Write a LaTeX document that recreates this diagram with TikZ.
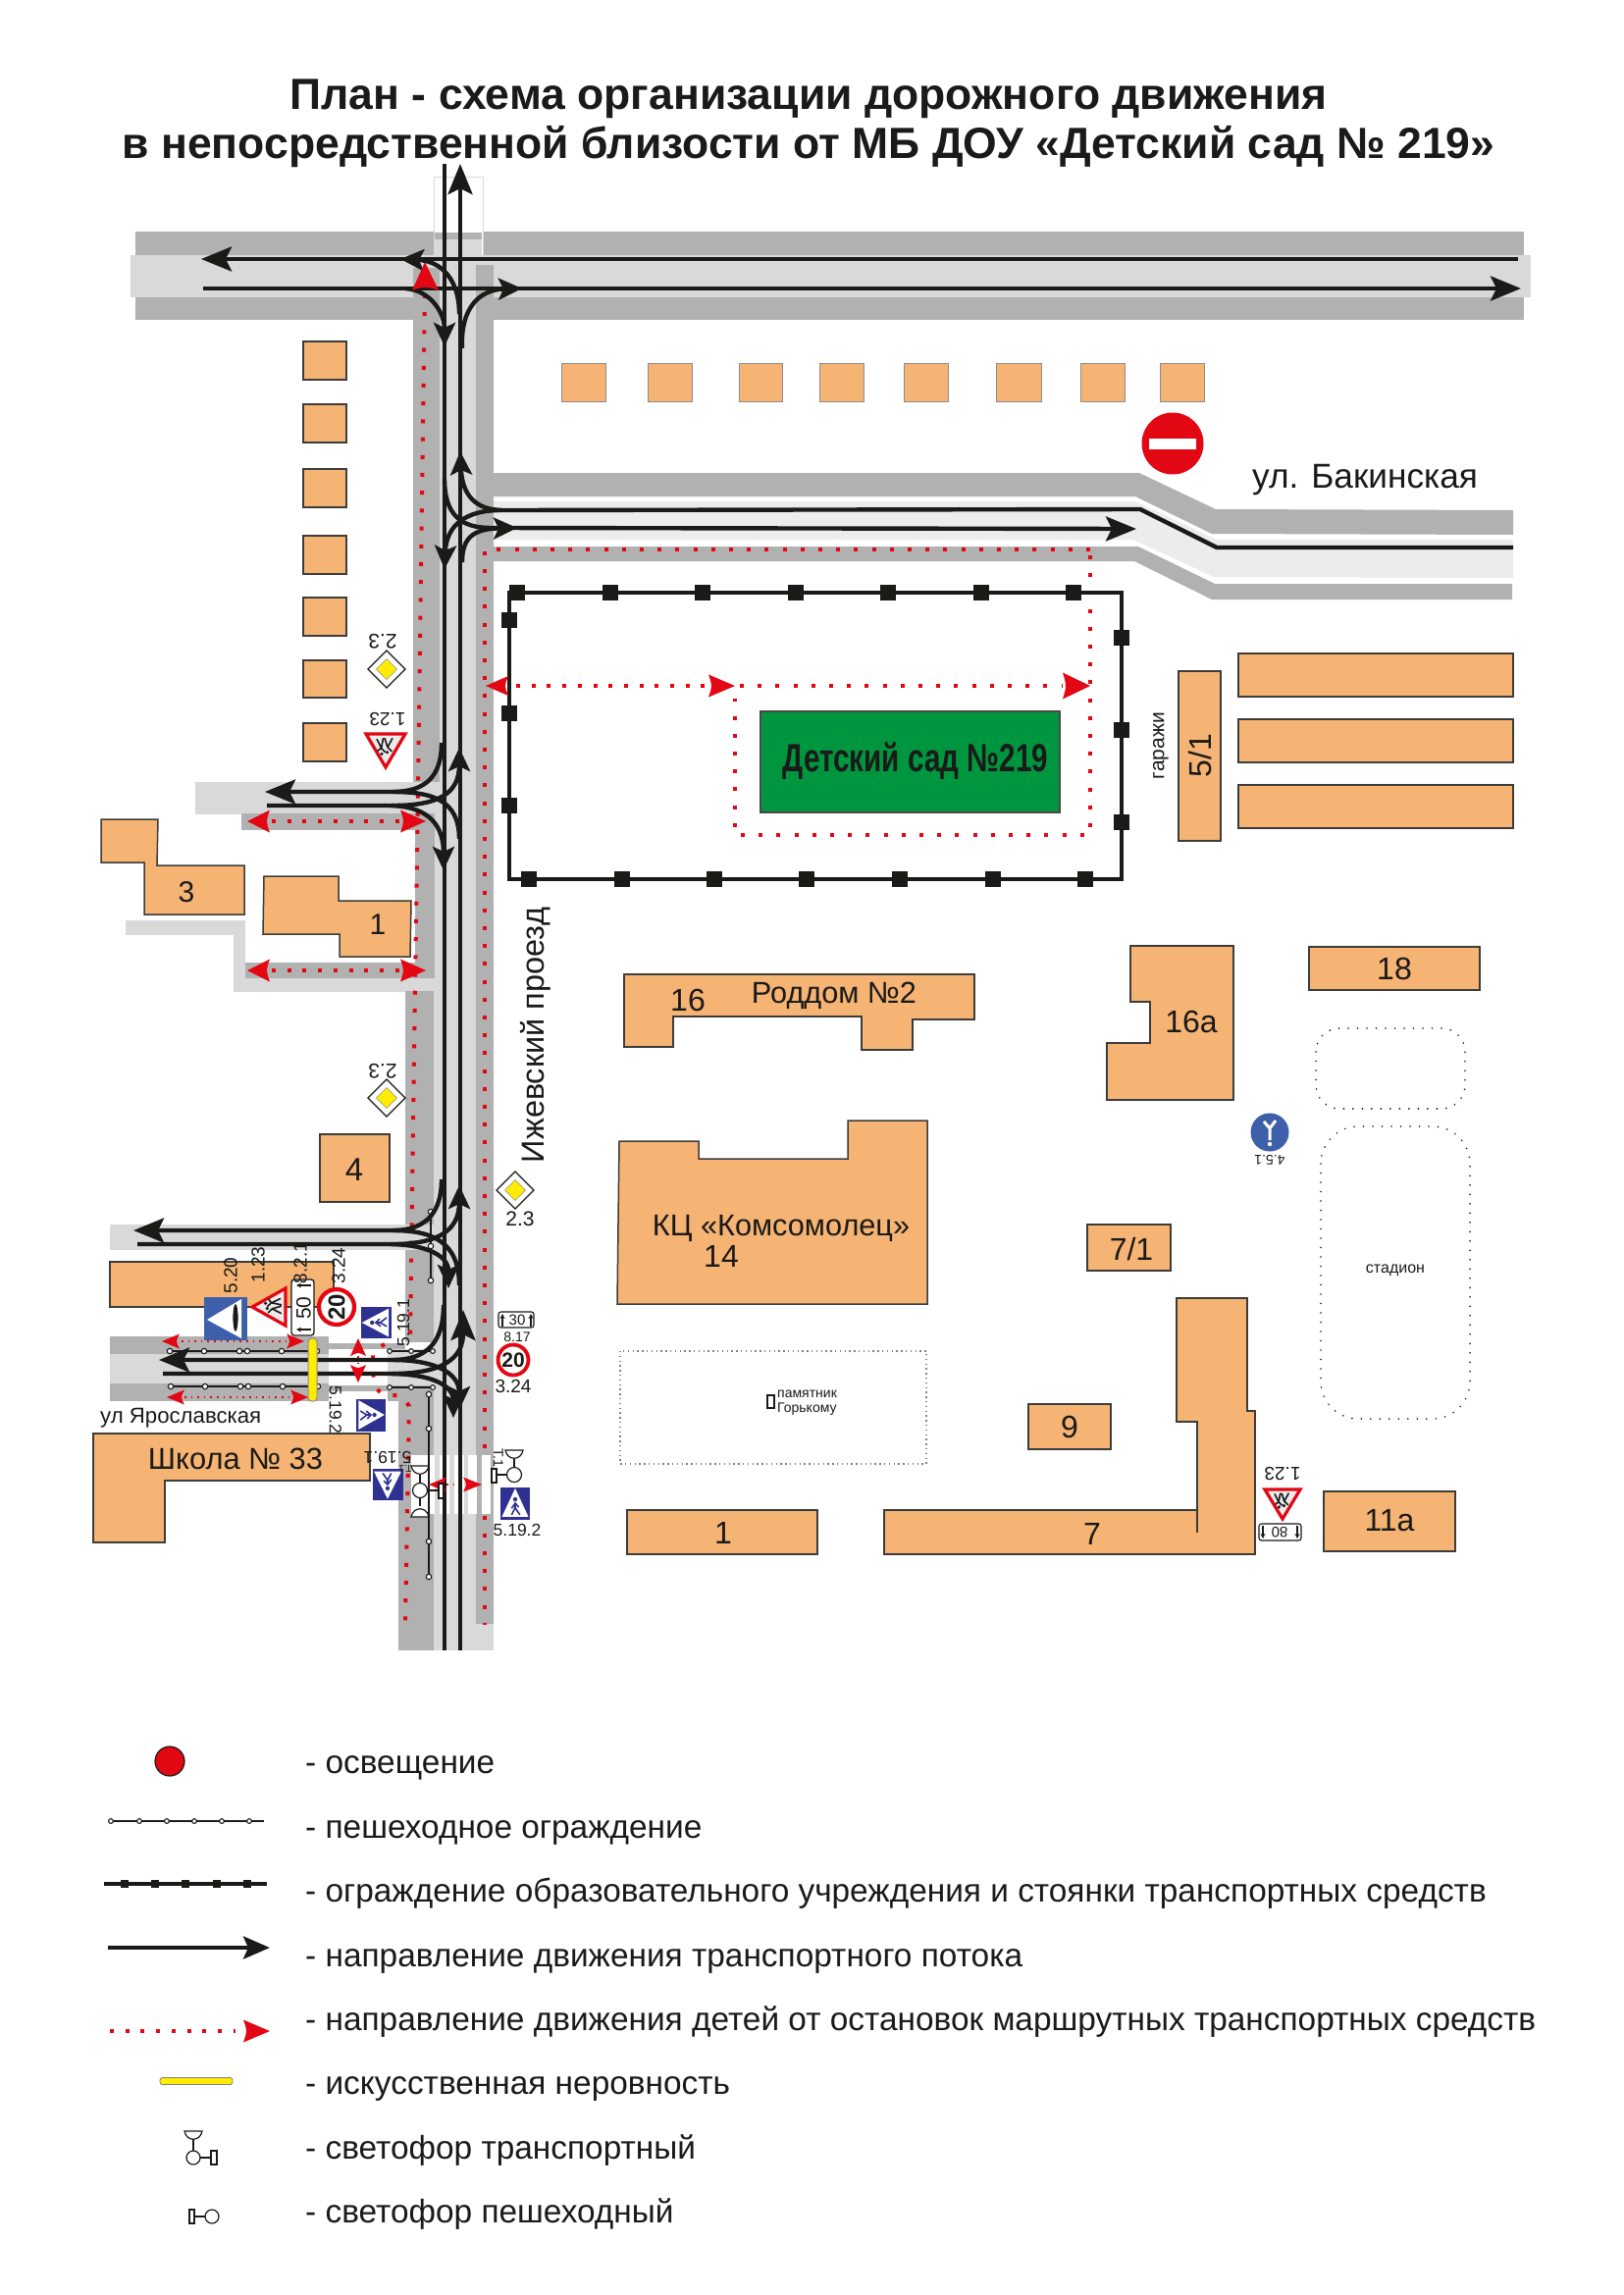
\documentclass[tikz,border=0pt]{standalone}
\usepackage{fontspec}
\usepackage{graphicx}
\setmainfont{Liberation Sans}
\usetikzlibrary{arrows.meta}
\definecolor{dk}{HTML}{B0B1B0}
\definecolor{lt}{HTML}{D9D9D9}
\definecolor{vl}{HTML}{ECECEC}
\definecolor{bd}{HTML}{F5B374}
\definecolor{rd}{HTML}{E30613}
\definecolor{yl}{HTML}{FFEC00}
\definecolor{gn}{HTML}{009640}
\definecolor{ink}{HTML}{1A1A18}
\definecolor{bl}{HTML}{3E5FA9}
\definecolor{nv}{HTML}{2E3192}
\newcommand\fs[1]{\fontsize{#1}{#1}\selectfont}
\tikzset{
 bdg/.style={fill=bd,draw=ink!85,line width=1.5pt},
 bdglight/.style={fill=bd,draw=black!45,line width=1pt},
 lane/.style={draw=ink,line width=4.4pt},
 big/.style={-{Stealth[length=31pt,width=25pt,inset=6pt]}},
 small/.style={-{Stealth[length=24pt,width=22pt,inset=5pt]}},
 reddot/.style={draw=rd,line width=4pt,dash pattern=on 4pt off 14.2pt},
 reddotb/.style={draw=rd,line width=4pt,dash pattern=on 4pt off 11.7pt},
 redfine/.style={draw=rd,line width=1.6pt,dash pattern=on 1.6pt off 5pt},
 pf/.style={draw=ink,line width=1.1pt},
 pc/.style={draw=ink,fill=white,line width=1.1pt},
 sf/.style={draw=ink,line width=3.6pt},
 lb/.style={inner sep=0pt,text=ink},
 sig/.style={draw=ink,fill=white,line width=1.2pt},
 lg/.style={inner sep=0pt,text=ink,anchor=base west,font={\fs{33.4}}},
 parr/.style={draw=ink,line width=1.1pt,-{Stealth[length=5pt,width=5pt]}},
}
% tip x, tip y, direction, length, width
\newcommand\redtip[5]{\fill[rd,shift={(#1,#2)},rotate=#3] (0,0) -- (-#4,{#5/2}) .. controls ({-#4+4},0) .. (-#4,{-#5/2}) -- cycle;}
% centre x, centre y, side w, side h, rotation
\newcommand\pedsign[5]{\begin{scope}[shift={(#1,#2)},rotate=#5]
 \fill[nv] ({-#3/2},{-#4/2}) rectangle ({#3/2},{#4/2});
 \fill[white] (0,{-0.46*#4}) -- ({0.45*#3},{0.42*#4}) -- ({-0.45*#3},{0.42*#4}) -- cycle;
 \draw[nv,line width=1.6pt] (0,{-0.02*#4}) -- (0.02,{0.14*#4}) -- ({-0.12*#3},{0.36*#4}) (0.02,{0.14*#4}) -- ({0.16*#3},{0.36*#4}) ({-0.12*#3},{0.16*#4}) -- (0,{0.0*#4}) -- ({0.12*#3},{0.12*#4});
 \fill[nv] (0,{-0.12*#4}) circle (2.2pt);
\end{scope}}
% children triangle: centre x, centre y, half-base, half-height, rotation
\newcommand\kidsign[5]{\begin{scope}[shift={(#1,#2)},rotate=#5]
 \draw[rd,fill=black!8,line width=3.2pt,line join=miter] (0,-#4) -- (#3,#4) -- (-#3,#4) -- cycle;
 \draw[ink,line width=1.6pt] ({-0.35*#3},{0.75*#4}) -- ({-0.1*#3},{0.2*#4}) -- ({-0.32*#3},{-0.05*#4}) ({-0.1*#3},{0.2*#4}) -- ({0.05*#3},{0.75*#4}) ({0.12*#3},{0.75*#4}) -- ({0.22*#3},{0.15*#4}) -- ({0.02*#3},{-0.1*#4}) ({0.22*#3},{0.15*#4}) -- ({0.45*#3},{0.7*#4}) ({0.22*#3},{0.15*#4}) -- ({0.42*#3},{-0.02*#4});
 \fill[ink] ({-0.08*#3},{-0.1*#4}) circle (1.8pt) ({0.2*#3},{-0.2*#4}) circle (1.8pt);
\end{scope}}
\newcommand\diamondsign[2]{\begin{scope}[shift={(#1,#2)}]
 \draw[ink,fill=white,line width=1.3pt] (0,-19) -- (19,0) -- (0,19) -- (-19,0) -- cycle;
 \fill[yl] (0,-10.5) -- (10.5,0) -- (0,10.5) -- (-10.5,0) -- cycle;
 \draw[ink!50,line width=.5pt] (0,-10.5) -- (10.5,0) -- (0,10.5) -- (-10.5,0) -- cycle;
\end{scope}}
\begin{document}
\begin{tikzpicture}[x=1pt,y=-1pt,line join=miter]
\fill[white] (0,0) rectangle (1654,2339);
\useasboundingbox (0,0) rectangle (1654,2339);
% ---------- title
\node[lb,font={\fs{44.5}\bfseries},anchor=base] (title1) at (824,112) {План - схема организации дорожного движения};
\node[lb,font={\fs{44.5}\bfseries},anchor=base] (title2) at (824,161) {в непосредственной близости от МБ ДОУ «Детский сад № 219»};
% ---------- top road
\fill[dk] (138,236) rectangle (1553,326);
\fill[lt] (133,260) rectangle (1560,303);
\draw[black!15,fill=white,line width=1pt] (442,180) rectangle (492,260);
\fill[dk] (443,237) rectangle (491,244);
\fill[lt] (443,244) rectangle (491,262);
% ---------- Izhevsky column
\fill[lt] (442,303) rectangle (485,1682);
\fill[lt] (485,1655) rectangle (503,1682);
\fill[dk] (421,273) rectangle (448,807);
\fill[dk] (485,270) rectangle (503,1655);
% ---------- Bakinskaya
\fill[dk] (503,482) -- (1161,482) -- (1239,519) -- (1542,520) -- (1542,545) -- (1235,544) -- (1157,506) -- (503,506) -- cycle;
\fill[vl] (503,511) -- (1157,511) -- (1240,550) -- (1542,550) -- (1542,589) -- (1237,588) -- (1155,550) -- (503,550) -- cycle;
\fill[dk] (490,557) -- (1160,557) -- (1238,595) -- (1541,595) -- (1541,611) -- (1235,611) -- (1156,572) -- (490,572) -- cycle;
% ---------- side streets on the left
\fill[lt] (199,797) rectangle (448,830);
\fill[dk] (246,829) rectangle (443,846);
\fill[dk] (423,846) rectangle (443,997);
\fill[dk] (249,981) rectangle (443,997);
\fill[lt] (128,938) rectangle (250,953);
\fill[lt] (238,953) rectangle (250,1011);
\fill[lt] (238,997) rectangle (443,1011);
\fill[dk] (413,1010) rectangle (442,1248);
\fill[lt] (112,1248) rectangle (442,1274);
\fill[dk] (413,1274) rectangle (442,1368);
\fill[dk] (112,1362) rectangle (335,1380);
\fill[dk] (335,1369) rectangle (413,1375);
\fill[lt] (112,1380) rectangle (335,1410);
\fill[lt] (395,1375) rectangle (442,1412);
\fill[dk] (112,1410) rectangle (335,1428);
\fill[dk] (335,1412) rectangle (395,1418);
\fill[dk] (395,1412) rectangle (442,1428);
\fill[dk] (406,1428) rectangle (442,1682);
% ---------- children's routes (dots)
\draw[reddot] (433,300) -- (418,1365);
\draw[reddot] (392,1370) -- (380,1377) -- (381,1413) -- (391,1422) -- (409,1422) -- (417,1433) -- (413,1656);
\draw[reddot] (1111,560) -- (494,560) -- (494,1656);
\draw[reddot] (1111,566) -- (1111,851) -- (749,851) -- (749,712);
\draw[reddot] (754,699) -- (1083,699);
\draw[reddotb] (526,699) -- (722,699);
\draw[reddotb] (277,837) -- (408,837);
\draw[reddotb] (277,989) -- (408,989);
\draw[redfine] (185,1367) -- (292,1367);
\draw[redfine] (188,1424) -- (297,1424);
% ---------- crossing
\fill[white] (419,1483) rectangle (443,1543);
\fill[white] (448,1483) rectangle (458,1543);
\fill[white] (463,1483) rectangle (473,1543);
\fill[white] (477,1483) rectangle (486,1543);
\fill[white] (491,1483) rectangle (500,1543);
\draw[redfine] (455,1513) -- (472,1513);
\draw[redfine] (365,1382) -- (365,1392);
% ---------- pedestrian fences
\draw[pf] (173,1377) -- (323,1377);
\draw[pf] (174,1413) -- (324,1413);
\draw[pf] (397,1377) -- (441,1377);
\draw[pf] (397,1414) -- (441,1414);
\draw[pf] (439,1235) -- (439,1305);
\draw[pf] (437,1421) -- (437,1607);
\foreach \x in {173,208,244,252,287,323} {\draw[pc] (\x,1377) circle (2.7pt);}
\foreach \x in {174,209,245,253,288,324} {\draw[pc] (\x,1413) circle (2.7pt);}
\foreach \x in {397,419,441} {\draw[pc] (\x,1377) circle (2.4pt); \draw[pc] (\x,1414) circle (2.4pt);}
\foreach \y in {1235,1270,1305} {\draw[pc] (439,\y) circle (2.7pt);}
\foreach \y in {1421,1456,1571,1607} {\draw[pc] (437,\y) circle (2.7pt);}
% ---------- buildings
\foreach \a/\b in {348/387,412/451,478/517,546/585,609/648,673/711,737/776} {\draw[bdg] (309,\a) rectangle (353,\b);}
\foreach \a/\b in {572/617,660/705,753/797,835/880,921/966,1015/1061,1101/1146,1182/1227} {\draw[bdglight] (\a,370) rectangle (\b,409);}
\draw[bdg] (103,835) -- (161,835) -- (160,882) -- (249,882) -- (249,932) -- (147,932) -- (147,879) -- (103,879) -- cycle;
\draw[bdg] (269,893) -- (345,893) -- (345,918) -- (419,918) -- (418,975) -- (346,975) -- (346,952) -- (268,952) -- cycle;
\draw[bdg] (326,1156) rectangle (397,1225);
\draw[bdg] (112,1286) rectangle (340,1332);
\draw[bdg] (95,1461) -- (377,1461) -- (377,1509) -- (168,1509) -- (168,1572) -- (95,1572) -- cycle;
\draw[bdg] (636,993) -- (993,993) -- (993,1039) -- (930,1039) -- (930,1070) -- (878,1070) -- (878,1036) -- (686,1036) -- (686,1067) -- (636,1067) -- cycle;
\draw[bdg] (631,1163) -- (712,1163) -- (712,1181) -- (864,1181) -- (864,1142) -- (945,1142) -- (945,1329) -- (629,1329) -- cycle;
\draw[bdg] (1152,964) -- (1257,964) -- (1257,1121) -- (1128,1121) -- (1128,1063) -- (1172,1063) -- (1172,1021) -- (1152,1021) -- cycle;
\draw[bdg] (1334,965) rectangle (1508,1009);
\draw[bdg] (1108,1248) rectangle (1193,1295);
\draw[bdg] (1048,1431) rectangle (1132,1477);
\draw[bdg] (639,1539) rectangle (833,1584);
\draw[bdg] (901,1539) -- (1220,1539) -- (1220,1449) -- (1199,1449) -- (1199,1323) -- (1271,1323) -- (1271,1438) -- (1279,1438) -- (1279,1584) -- (901,1584) -- cycle;
\draw[ink!85,line width=1.5pt] (1220,1539) -- (1220,1562);
\draw[bdg] (1349,1520) rectangle (1483,1581);
\draw[bdg] (1201,684) rectangle (1244,857);
\draw[bdg] (1262,666) rectangle (1542,710);
\draw[bdg] (1262,733) rectangle (1542,777);
\draw[bdg] (1262,800) rectangle (1542,844);
% ---------- dotted grounds
\draw[ink,line width=1.8pt,line cap=round,dash pattern=on 0pt off 9.5pt,rounded corners=24pt] (1341,1048) rectangle (1493,1130);
\draw[ink,line width=1.8pt,line cap=round,dash pattern=on 0pt off 9.5pt,rounded corners=38pt] (1346,1148) rectangle (1498,1446);
\draw[black!50,line width=1.4pt,dash pattern=on 1.4pt off 3.4pt] (632,1377) rectangle (944,1492);
\draw[ink,line width=1.4pt,fill=white] (782,1422) rectangle (789,1435);
% ---------- kindergarten
\draw[sf] (519,604) rectangle (1143,896);
\foreach \x in {527,622,716,811,905,1000,1094} {\fill[ink] (\x,604) ++(-8,-8) rectangle ++(16,16);}
\foreach \x in {539,634,728,822,917,1012,1106} {\fill[ink] (\x,896) ++(-8,-8) rectangle ++(16,16);}
\foreach \y in {632,727,821} {\fill[ink] (519,\y) ++(-8,-8) rectangle ++(16,16);}
\foreach \y in {650,744,838} {\fill[ink] (1143,\y) ++(-8,-8) rectangle ++(16,16);}
\draw[fill=gn,draw=ink!80,line width=1.2pt] (775,725) rectangle (1080,828);
\node[lb,font={\fs{40}\bfseries}] (dsad) at (933,776) {\scalebox{0.74}[1]{Детский сад №219}};
% ---------- traffic lanes
\draw[lane,big] (1547,264) -- (205,264);
\draw[lane,big] (207,294) -- (1550,294);
\draw[lane] (453,167) -- (453,1682);
\draw[lane,big] (469,1682) -- (469,167);
\draw[lane,small] (468,320) .. controls (468,285) and (450,266) .. (408,264);
\draw[lane,small] (413,294) .. controls (440,296) and (453,320) .. (453,353);
\draw[lane,small] (471,355) .. controls (469,312) and (490,295) .. (532,294);
% Bakinskaya junction
\draw[lane,small] (1542,558) -- (1240,558) -- (1162,519) -- (513,520) .. controls (485,520) and (471,505) .. (469,460);
\draw[lane,small] (510,520) .. controls (475,520) and (455,535) .. (453,580);
\draw[lane,big] (453,488) .. controls (453,525) and (470,538) .. (500,538) -- (1158,539);
\draw[lane,small] (471,573) .. controls (471,550) and (480,539) .. (527,538);
% junction 1
\draw[lane,big] (450,757) .. controls (450,790) and (435,807) .. (400,807) -- (270,807);
\draw[lane] (400,807) .. controls (440,807) and (468,815) .. (468,855);
\draw[lane,small] (272,821) -- (395,821) .. controls (430,821) and (452,835) .. (452,887);
\draw[lane,small] (400,821) .. controls (445,821) and (468,810) .. (468,762);
% junction 2
\draw[lane,big] (450,1202) .. controls (450,1235) and (435,1254) .. (400,1254) -- (136,1254);
\draw[lane] (400,1254) .. controls (440,1254) and (468,1265) .. (468,1310);
\draw[lane,small] (140,1268) -- (395,1268) .. controls (435,1268) and (457,1280) .. (457,1313);
\draw[lane,small] (400,1268) .. controls (445,1268) and (468,1255) .. (468,1208);
% junction 3
\draw[lane,big] (452,1330) .. controls (452,1368) and (435,1386) .. (400,1386) -- (162,1386);
\draw[lane,small] (400,1386) .. controls (445,1386) and (468,1400) .. (468,1437);
\draw[lane,small] (166,1400) -- (395,1400) .. controls (440,1400) and (462,1412) .. (462,1445);
\draw[lane,big] (400,1400) .. controls (450,1400) and (472,1385) .. (472,1335);
% ---------- speed hump
\draw[fill=yl,draw=black!45,line width=1pt,rounded corners=3.5pt] (314,1364) rectangle (323,1428);
% ---------- red heads
\fill[rd] (433,267) -- (447,296) .. controls (438,292) and (429,292) .. (420,296) -- cycle;
\redtip{495}{699}{180}{23}{20}
\redtip{749}{699}{0}{27}{23}
\redtip{1111}{699}{0}{28}{27}
\redtip{252}{837}{180}{23}{23}
\redtip{434}{837}{0}{26}{23}
\redtip{252}{989}{180}{23}{23}
\redtip{434}{989}{0}{26}{23}
\redtip{165}{1367}{180}{18}{15}
\redtip{310}{1367}{0}{18}{15}
\redtip{170}{1424}{180}{18}{15}
\redtip{314}{1424}{0}{18}{15}
\redtip{365}{1364}{90}{18}{16}
\redtip{365}{1409}{-90}{18}{16}
\redtip{437}{1513}{180}{18}{15}
\redtip{491}{1513}{0}{19}{15}
% ---------- no entry
\fill[rd] (1195,452) circle (31.5pt);
\fill[white] (1171,447) rectangle (1219,458);
% ---------- signs
\diamondsign{394}{682}
\diamondsign{394}{1119}
\diamondsign{525}{1213}
\kidsign{393}{765}{20}{17}{180}
\kidsign{274}{1332}{19}{17}{90}
\kidsign{1307}{1533}{18}{15}{180}
% 5.20
\fill[bl] (208,1322) rectangle (252,1366);
\fill[white] (211,1345) -- (246,1324) -- (246,1364) -- cycle;
\fill[ink] (240,1343) ellipse (2.6pt and 14pt);
% plate 50
\draw[ink,fill=white,line width=1.3pt,rounded corners=3pt] (297,1304) rectangle (320,1361);
\node[lb,font={\fs{21}},rotate=90] (p50) at (309.5,1333) {50};
\draw[parr] (317,1310) -- (302,1310);
\draw[parr] (317,1355) -- (302,1355);
% speed signs
\draw[rd,fill=white,line width=4.2pt] (343,1332) circle (18pt);
\node[lb,font={\fs{24}\bfseries},rotate=90] (s20a) at (343,1332) {20};
\draw[rd,fill=white,line width=3.8pt] (523,1386) circle (15.5pt);
\node[lb,font={\fs{21}\bfseries}] (s20b) at (523,1386) {20};
\draw[ink,fill=white,line width=1.1pt,rounded corners=2.5pt] (508,1337) rectangle (544,1353);
\node[lb,font={\fs{15}}] (p30) at (527,1345) {30};
\draw[parr] (512,1352) -- (512,1339);
\draw[parr] (541,1352) -- (541,1339);
\draw[ink,fill=white,line width=1.1pt,rounded corners=2.5pt] (1283,1553) rectangle (1326,1570);
\node[lb,font={\fs{15}},rotate=180] (p80) at (1304,1561.5) {80};
\draw[parr] (1287,1555) -- (1287,1568);
\draw[parr] (1322,1555) -- (1322,1568);
\pedsign{383}{1348}{32}{31}{90}
\pedsign{378}{1442}{33}{30}{-90}
\pedsign{395}{1513}{31}{32}{180}
\pedsign{525}{1532}{30}{33}{0}
% 4.5.1
\fill[bl] (1294,1154) circle (19.5pt);
\draw[white,line width=3pt] (1294,1162) -- (1294,1150) -- (1288,1143) (1294,1150) -- (1300,1142);
\fill[white] (1294,1166) circle (2.2pt);
% traffic lights
\draw[sig] (428,1503) -- (428,1535);
\draw[sig] (436,1519) -- (447,1519);
\draw[sig] (419,1494) .. controls (421,1505) and (435,1505) .. (437,1494) -- cycle;
\draw[sig] (419,1546) .. controls (421,1535) and (435,1535) .. (437,1546) -- cycle;
\draw[sig] (428,1519) circle (7.5pt);
\draw[sig] (447,1512) rectangle (452,1527);
\draw[sig] (524,1487) -- (524,1496);
\draw[sig] (506,1503) -- (517,1503);
\draw[sig] (515,1478) .. controls (517,1489) and (531,1489) .. (533,1478) -- cycle;
\draw[sig] (524,1503) circle (7.5pt);
\draw[sig] (501,1497) rectangle (506,1511);
% ---------- sign labels
\node[lb,font={\fs{21}},rotate=180] (l1) at (390,654) {2.3};
\node[lb,font={\fs{21}},rotate=180] (l2) at (390,1092) {2.3};
\node[lb,font={\fs{21}}] (l3) at (530,1242) {2.3};
\node[lb,font={\fs{19}},rotate=180] (l4) at (395,733) {1.23};
\node[lb,font={\fs{19}},rotate=180] (l5) at (1307,1502) {1.23};
\node[lb,font={\fs{14}},rotate=180] (l6) at (1294,1182) {4.5.1};
\node[lb,font={\fs{19}},rotate=90] (l7) at (235,1300) {5.20};
\node[lb,font={\fs{19}},rotate=90] (l8) at (263,1289) {1.23};
\node[lb,font={\fs{19}},rotate=90] (l9) at (306,1287) {8.2.1};
\node[lb,font={\fs{19}},rotate=90] (l10) at (345,1290) {3.24};
\node[lb,font={\fs{17.5}},rotate=90] (l11) at (411,1348) {5.19.1};
\node[lb,font={\fs{17.5}},rotate=-90] (l12) at (342,1437) {5.19.2};
\node[lb,font={\fs{17.5}},rotate=180] (l13) at (395,1486) {5.19.1};
\node[lb,font={\fs{17.5}}] (l14) at (527,1559) {5.19.2};
\node[lb,font={\fs{19}}] (l15) at (523,1413) {3.24};
\node[lb,font={\fs{14}}] (l16) at (527,1363) {8.17};
\node[lb,font={\fs{14}},rotate=-90] (l17) at (508,1486) {Т.1};
\node[lb,font={\fs{10}},rotate=180] (l18) at (413,1497) {Т.1};
% ---------- building labels
\node[lb,font={\fs{35.2}},anchor=base west] (bak) at (1276,497) {ул. Бакинская};
\node[lb,font={\fs{32.5}},rotate=90] (izh) at (546,1055) {Ижевский проезд};
\node[lb,font={\fs{22.2}},anchor=base west] (yar) at (102,1450) {ул Ярославская};
\node[lb,font={\fs{30.8}}] (sch) at (240,1487) {Школа № 33};
\node[lb,font={\fs{30}}] (b3) at (190,909) {3};
\node[lb,font={\fs{30}}] (b1a) at (385,942) {1};
\node[lb,font={\fs{33}}] (b4) at (361,1192) {4};
\node[lb,font={\fs{32}}] (b16) at (701,1019) {16};
\node[lb,font={\fs{30.7}}] (rod) at (850,1015) {Роддом №2};
\node[lb,font={\fs{30.7}}] (kc) at (796,1252) {КЦ «Комсомолец»};
\node[lb,font={\fs{32}}] (b14) at (735,1280) {14};
\node[lb,font={\fs{32}}] (b16a) at (1214,1041) {16а};
\node[lb,font={\fs{32}}] (b18) at (1421,987) {18};
\node[lb,font={\fs{32}}] (b71) at (1153,1273) {7/1};
\node[lb,font={\fs{32}}] (b9) at (1090,1454) {9};
\node[lb,font={\fs{32}}] (b1b) at (737,1562) {1};
\node[lb,font={\fs{32}}] (b7) at (1113,1563) {7};
\node[lb,font={\fs{32}}] (b11) at (1416,1550) {11а};
\node[lb,font={\fs{32}},rotate=90] (b51) at (1223,770) {5/1};
\node[lb,font={\fs{21}},rotate=90] (gar) at (1183,760) {гаражи};
\node[lb,font={\fs{16}}] (stad) at (1422,1295) {стадион};
\node[lb,font={\fs{14}},anchor=base west] (pam1) at (792,1424) {памятник};
\node[lb,font={\fs{14}},anchor=base west] (pam2) at (792,1439) {Горькому};
% ---------- legend symbols
\draw[ink,fill=rd,line width=1.2pt] (173,1795) circle (15pt);
\draw[pf] (113,1856) -- (269,1856);
\foreach \x in {113,142,170,198,226,254} {\draw[pc] (\x,1856) circle (2.4pt);}
\draw[ink,line width=4pt] (106,1920) -- (272,1920);
\foreach \x in {127,158,189,221,252} {\fill[ink] (\x,1920) ++(-4,-4) rectangle ++(8,8);}
\draw[lane,-{Stealth[length=27pt,width=23pt,inset=5pt]}] (110,1985) -- (275,1985);
\draw[reddotb] (112,2070) -- (240,2070);
\redtip{275}{2070}{0}{27}{23}
\draw[fill=yl,draw=black!50,line width=.8pt,rounded corners=2.5pt] (163,2117.5) rectangle (237,2124.5);
\draw[sig] (197,2181) -- (197,2192);
\draw[sig] (204,2199) -- (215,2199);
\draw[sig] (188,2172) .. controls (190,2183) and (204,2183) .. (206,2172) -- cycle;
\draw[sig] (197,2199) circle (7pt);
\draw[sig] (215,2192) rectangle (221,2206);
\draw[sig] (198,2259) -- (209,2259);
\draw[sig] (193,2252) rectangle (198,2266);
\draw[sig] (216,2259) circle (7pt);
% ---------- legend text
\node[lg] (t1) at (311,1807) {- освещение};
\node[lg] (t2) at (311,1873) {- пешеходное ограждение};
\node[lg] (t3) at (311,1938) {- ограждение образовательного учреждения и стоянки транспортных средств};
\node[lg] (t4) at (311,2004) {- направление движения транспортного потока};
\node[lg] (t5) at (311,2069) {- направление движения детей от остановок маршрутных транспортных средств};
\node[lg] (t6) at (311,2134) {- искусственная неровность};
\node[lg] (t7) at (311,2200) {- светофор транспортный};
\node[lg] (t8) at (311,2265) {- светофор пешеходный};
\end{tikzpicture}
\end{document}
